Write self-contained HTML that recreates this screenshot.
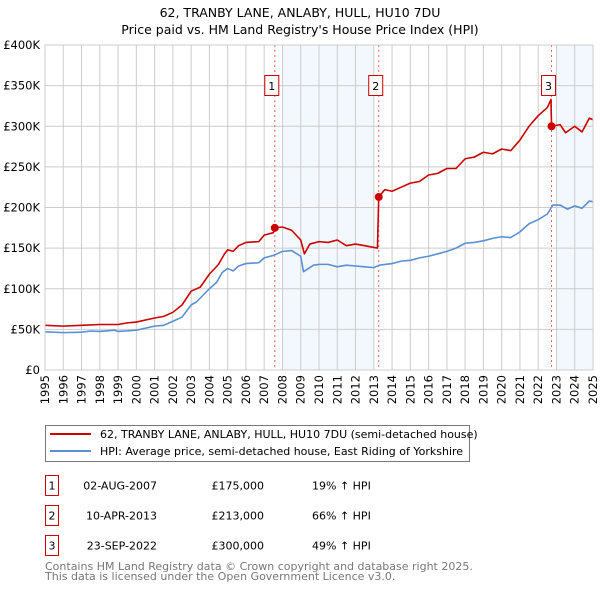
<!DOCTYPE html>
<html><head><meta charset="utf-8"><style>
body{margin:0;background:#fff;font-family:"Liberation Sans","DejaVu Sans",sans-serif;}
svg text{font-family:"DejaVu Sans","Liberation Sans",sans-serif;}
</style></head><body>
<svg id="c" width="600" height="590" viewBox="0 0 600 590" xmlns="http://www.w3.org/2000/svg">
<text x="300" y="17" text-anchor="middle" font-size="12.5">62, TRANBY LANE, ANLABY, HULL, HU10 7DU</text>
<text x="300" y="34" text-anchor="middle" font-size="12.5">Price paid vs. HM Land Registry's House Price Index (HPI)</text>
<g id="plot"></g>
<g>
<rect x="45.5" y="425.5" width="424" height="36" fill="#fff" stroke="#777"/>
<line x1="50" y1="434" x2="91" y2="434" stroke="#cc0000" stroke-width="2"/>
<text x="100" y="438" font-size="11">62, TRANBY LANE, ANLABY, HULL, HU10 7DU (semi-detached house)</text>
<line x1="50" y1="451" x2="91" y2="451" stroke="#5b8fd4" stroke-width="2"/>
<text x="100" y="455" font-size="11">HPI: Average price, semi-detached house, East Riding of Yorkshire</text>
</g>
<g id="table"></g>
<text x="45" y="570" font-size="11" fill="#777">Contains HM Land Registry data © Crown copyright and database right 2025.</text>
<text x="45" y="580" font-size="11" fill="#777">This data is licensed under the Open Government Licence v3.0.</text>
</svg>
<script>
const hpiYears=[1995,1996,1997,1997.5,1998,1998.8,1999,2000,2001,2001.5,2002,2002.5,2003,2003.3,2004,2004.4,2004.7,2005,2005.3,2005.6,2006,2006.7,2007,2007.5,2008,2008.5,2009,2009.15,2009.7,2010,2010.5,2011,2011.5,2012,2012.5,2013,2013.3,2014,2014.5,2015,2015.5,2016,2016.5,2017,2017.5,2018,2018.5,2019,2019.5,2020,2020.5,2021,2021.5,2022,2022.5,2022.8,2023.2,2023.6,2024,2024.4,2024.8,2025];
const hpiValues=[47,46,46.5,48,47.5,49,47.5,49,54,55,60,65,80,84,100,108,120,125,122,128,131,132,138,141,146,147,140,121,129,130,130,127,129,128,127,126,129,131,134,135,138,140,143,146,150,156,157,159,162,164,163,170,180,185,192,203,203,198,202,199,208,207];
const propYears=[1995,1996,1997,1998,1999,1999.5,2000,2001,2001.5,2002,2002.5,2003,2003.5,2004,2004.5,2004.8,2005,2005.3,2005.6,2006,2006.7,2007,2007.5,2007.58,2008,2008.5,2009,2009.2,2009.5,2010,2010.5,2011,2011.5,2012,2012.5,2013.2,2013.27,2013.6,2014,2014.5,2015,2015.5,2016,2016.5,2017,2017.5,2018,2018.5,2019,2019.5,2020,2020.5,2021,2021.5,2022,2022.5,2022.7,2022.73,2023.2,2023.5,2024,2024.4,2024.8,2025];
const propValues=[55,54,55,56,56,58,59,64,66,71,80,97,102,118,130,142,148,146,153,157,158,166,169,175,176,172,160,143,155,158,157,160,153,155,153,150,213,222,220,225,230,232,240,242,248,248,260,262,268,266,272,270,283,300,313,323,333,300,302,292,300,293,310,308];
const saleYears=[2007.58,2013.27,2022.73];
const saleValues=[175,213,300];
const saleLabels=["1","2","3"];
const saleDates=["02-AUG-2007","10-APR-2013","23-SEP-2022"];
const salePrices=["£175,000","£213,000","£300,000"];
const saleHpi=["19% ↑ HPI","66% ↑ HPI","49% ↑ HPI"];
const shadeRanges=[[2008,2013],[2023,2025]];
const yTicks=[0,50,100,150,200,250,300,350,400];
const yTickLabels=["£0","£50K","£100K","£150K","£200K","£250K","£300K","£350K","£400K"];

const NS="http://www.w3.org/2000/svg";
const L=45,R=593,T=45,B=370;
const x=y=>L+(y-1995)/30*(R-L);
const yv=v=>B-v/400*(B-T);
const g=document.getElementById('plot');
function mk(t,a,p){const e=document.createElementNS(NS,t);for(const k in a)e.setAttribute(k,a[k]);(p||g).appendChild(e);return e;}
shadeRanges.forEach(r=>{const e=mk('rect',{x:x(r[0]),y:T,width:x(r[1])-x(r[0]),height:B-T,fill:'#eef3fd',opacity:0.7});

});
for(let yr=1995;yr<=2025;yr++){const e=mk('line',{x1:x(yr),x2:x(yr),y1:T,y2:B,stroke:'#ccc','stroke-width':1});


const t=mk('text',{x:0,y:0,'font-size':11.5,'text-anchor':'end',transform:`translate(${x(yr)+4},${B+5}) rotate(-90)`});t.textContent=yr;

}
yTicks.forEach((v,i)=>{const e=mk('line',{x1:L,x2:R,y1:yv(v),y2:yv(v),stroke:'#ccc','stroke-width':1});


const t=mk('text',{x:40,y:yv(v)+4,'font-size':11.5,'text-anchor':'end'});t.textContent=yTickLabels[i];

});
saleYears.forEach((yr,i)=>{const e=mk('line',{x1:x(yr),x2:x(yr),y1:T,y2:B,stroke:'#e06060','stroke-width':1,'stroke-dasharray':'2,3'});


const bx=mk('rect',{x:x(yr)-10,y:75.5,width:14,height:20,fill:'#fff',stroke:'#cc0000'});


const t=mk('text',{x:x(yr)-3,y:90,'font-size':11,'text-anchor':'middle'});t.textContent=saleLabels[i];

});
function line(xs,vs,c,n){const e=mk('polyline',{points:xs.map((a,i)=>x(a)+','+yv(vs[i])).join(' '),fill:'none',stroke:c,'stroke-width':1.6,'stroke-linejoin':'round'});

}
line(hpiYears,hpiValues,'#5b8fd4','hpi-line');
line(propYears,propValues,'#cc0000','property-line');
saleYears.forEach((yr,i)=>{const e=mk('circle',{cx:x(yr),cy:yv(saleValues[i]),r:4,fill:'#cc0000'});

});
const border=mk('rect',{x:L,y:T,width:R-L,height:B-T,fill:'none',stroke:'#ccc'});


const tb=document.getElementById('table');
saleLabels.forEach((lab,i)=>{const yy=475+i*30;
const b=mk('rect',{x:45.5,y:yy+0.5,width:13,height:20,fill:'#fff',stroke:'#cc0000'},tb);


const cells=[[52,lab,'middle'],[157,saleDates[i],'end'],[264,salePrices[i],'end'],[312,saleHpi[i],'start']];
cells.forEach(c=>{const t=mk('text',{x:c[0],y:yy+14.5,'font-size':11,'text-anchor':c[2]},tb);t.textContent=c[1];

});});
</script>
</body></html>
